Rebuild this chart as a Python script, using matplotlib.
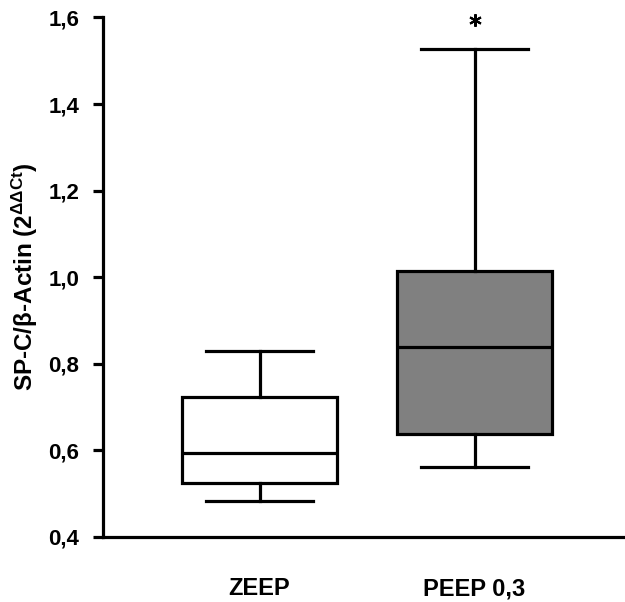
import matplotlib
matplotlib.use("Agg")
import matplotlib.pyplot as plt

plt.rcParams['font.family'] = ['Liberation Sans', 'DejaVu Sans']
plt.rcParams['mathtext.fontset'] = 'custom'
plt.rcParams['mathtext.rm'] = 'Liberation Sans:bold'
plt.rcParams['mathtext.it'] = 'Liberation Sans:bold'
plt.rcParams['mathtext.bf'] = 'Liberation Sans:bold'

categories = ["ZEEP", "PEEP 0,3"]
whisker_low = [0.483, 0.562]
q1 = [0.525, 0.638]
median = [0.595, 0.839]
q3 = [0.723, 1.015]
whisker_high = [0.830, 1.526]
fills = ["white", "#808080"]
yticks = [0.4, 0.6, 0.8, 1.0, 1.2, 1.4, 1.6]
ytick_labels = ["0,4", "0,6", "0,8", "1,0", "1,2", "1,4", "1,6"]

fig = plt.figure(figsize=(6.25, 6.02), dpi=100)
ax = fig.add_axes([0.1648, 0.108, 0.8352, 0.863])

stats = []
for i, c in enumerate(categories):
    stats.append(dict(label=c, whislo=whisker_low[i], q1=q1[i], med=median[i],
                      q3=q3[i], whishi=whisker_high[i], fliers=[]))

lw = 2.3
bp = ax.bxp(stats, positions=[1, 2], widths=0.72, patch_artist=True,
            showfliers=False,
            boxprops=dict(linewidth=lw, edgecolor='black'),
            medianprops=dict(linewidth=lw, color='black'),
            whiskerprops=dict(linewidth=lw, color='black'),
            capprops=dict(linewidth=lw, color='black'),
            capwidths=0.5)
for patch, f in zip(bp['boxes'], fills):
    patch.set_facecolor(f)

# significance asterisk above PEEP 0,3
ax.plot([2], [whisker_high[1] + 0.067], marker=(6, 2, 0), ms=9, mew=1.5,
        color='black', clip_on=False)

ax.set_xlim(0.272, 2.70)
ax.set_ylim(0.4, 1.6)
ax.set_yticks(yticks)
ax.set_yticklabels(ytick_labels, fontsize=16, fontweight='bold')
ax.set_xticks([1, 2])
ax.set_xticklabels(categories, fontsize=17, fontweight='bold')
ax.tick_params(axis='x', length=0, pad=29)
ax.tick_params(axis='y', length=7, width=2.3, pad=10)
for s in ['top', 'right']:
    ax.spines[s].set_visible(False)
for s in ['left', 'bottom']:
    ax.spines[s].set_linewidth(2.3)
ax.set_ylabel(r"SP-C/β-Actin (2$^{\Delta\Delta Ct}$)", fontsize=17.5, fontweight='bold', labelpad=6)

fig.savefig("out.png", dpi=100)
